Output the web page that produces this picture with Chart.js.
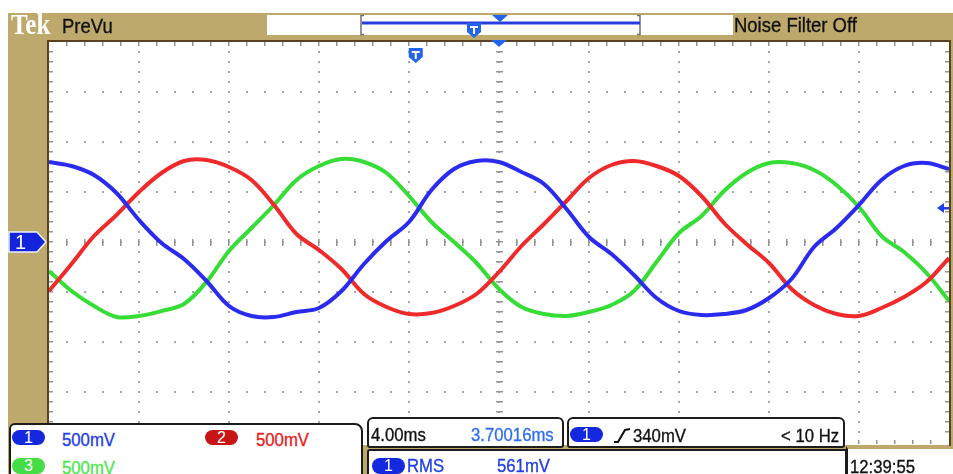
<!DOCTYPE html>
<html>
<head>
<meta charset="utf-8">
<script src="https://cdn.jsdelivr.net/npm/chart.js@4.4.1/dist/chart.umd.min.js"></script>
<style>
  body { margin:0; background:#fff; }
  #wrap { position:relative; width:953px; height:474px; overflow:hidden; font-family:"Liberation Sans", Arial, sans-serif; }
  .tan { position:absolute; left:8px; top:13px; right:0; bottom:0; background:#bea96c; }
  .bar { position:absolute; left:267px; top:15px; width:466px; height:20px; background:#fff; }
  #scope { position:absolute; left:0; top:0; }
  .t { position:absolute; white-space:nowrap; line-height:1; transform:scaleX(.88); transform-origin:left top; -webkit-text-stroke:0.35px currentColor; }
  .s19 { font-size:19px; }
  .s21 { font-size:21px; }
  .panel { position:absolute; background:#fff; border:2px solid #1c1c1c; box-sizing:border-box; }
  .badge { position:absolute; height:15px; width:33px; border-radius:8px; color:#fff; font-size:16px; line-height:15px; text-align:center; }
  .blue { color:#1f3de8; }
  .lblue { color:#2f6ef0; }
  .red { color:#e81c1c; }
  .green { color:#4ee84e; }
</style>
</head>
<body>
<div id="wrap">
  <div class="tan"></div>
  <div class="bar"></div>
  <canvas id="scope" width="953" height="474"></canvas>

  <div class="t" style="left:11px;top:8px;font:bold 29px 'Liberation Serif',serif;color:#fff;transform:scaleX(.86);-webkit-text-stroke:0">Tek</div>
  <div class="t s21" style="left:62px;top:15px;color:#111">PreVu</div>
  <div class="t s21" style="left:734px;top:14px;color:#111">Noise Filter Off</div>

  <div class="panel" style="left:9px;top:423px;width:354px;height:70px;border-radius:6px 8px 0 0"></div>
  <div class="badge" style="left:12px;top:430px;background:#1428e0">1</div>
  <div class="t s19 blue" style="left:62px;top:430px">500mV</div>
  <div class="badge" style="left:205px;top:430px;background:#c81616">2</div>
  <div class="t s19 red" style="left:256px;top:430px">500mV</div>
  <div class="badge" style="left:12px;top:458px;height:16px;background:#45dd45">3</div>
  <div class="t s19 green" style="left:62px;top:458px">500mV</div>

  <div class="panel" style="left:367px;top:417px;width:197px;height:31px;border-radius:6px 6px 3px 3px"></div>
  <div class="t s19" style="left:371px;top:425px;color:#111">4.00ms</div>
  <div class="t s19 lblue" style="left:471px;top:425px">3.70016ms</div>

  <div class="panel" style="left:567px;top:417px;width:278px;height:31px;border-radius:6px 6px 3px 3px"></div>
  <div class="badge" style="left:570px;top:427px;background:#1428e0">1</div>
  <svg style="position:absolute;left:613px;top:428px" width="18" height="15"><path d="M1 14 L5 14 L12 2 L17 1" stroke="#111" stroke-width="2" fill="none"/></svg>
  <div class="t s19" style="left:633px;top:426px;color:#111">340mV</div>
  <div class="t s19" style="left:781px;top:426px;color:#111">&lt; 10 Hz</div>

  <div class="panel" style="left:367px;top:449px;width:480px;height:40px;border-radius:3px 0 0 0"></div>
  <div class="badge" style="left:372px;top:458px;height:16px;background:#1428e0">1</div>
  <div class="t s19 blue" style="left:407px;top:456px">RMS</div>
  <div class="t s19 blue" style="left:497px;top:456px">561mV</div>

  <div class="panel" style="left:846px;top:446px;width:120px;height:40px;border-top:3px solid #bea96c;border-right:none"></div>
  <div class="t s19" style="left:850px;top:457px;color:#111">12:39:55</div>
</div>

<script>
// time axis in ms (4 ms/div), values in mV (500 mV/div)
const timeMs = [0,1,2,3,4,5,6,7,8,9,10,11,12,13,14,15,16,17,18,19,20,
                21,22,23,24,25,26,27,28,29,30,31,32,33,34,35,36,37,38,39,40];

const ch1 = [800,760,670,490,220,-10,-170,-390,-640,-740,-750,-700,-660,-490,-220,10,200,520,730,810,800,
             700,580,330,50,-120,-330,-560,-690,-730,-720,-680,-560,-370,-50,140,370,620,760,790,730];

const ch2 = [-490,-220,60,270,500,690,810,820,750,620,370,80,-80,-270,-520,-650,-720,-710,-640,-520,-300,
             -40,180,410,640,770,810,760,660,460,190,-20,-210,-470,-630,-720,-740,-660,-550,-400,-160];

const ch3 = [-290,-490,-640,-750,-740,-690,-620,-400,-90,140,370,620,760,830,800,690,460,200,0,-210,-470,
             -650,-720,-740,-700,-630,-490,-200,90,260,510,690,790,790,720,570,350,60,-100,-310,-590];

const msPerDiv = 4;
const mvPerDiv = 500;
const triggerTime = 20;
const triggerLevel = 340;
const prevuTime = 16.3;

const pts = arr => timeMs.map((t, i) => ({ x: t, y: arr[i] }));

function shield(ctx, cx, top) {
  ctx.fillStyle = '#2463ee';
  ctx.beginPath();
  ctx.moveTo(cx - 7, top);
  ctx.lineTo(cx + 7, top);
  ctx.lineTo(cx + 7, top + 9);
  ctx.lineTo(cx, top + 15);
  ctx.lineTo(cx - 7, top + 9);
  ctx.closePath();
  ctx.fill();
  ctx.strokeStyle = '#fff';
  ctx.lineWidth = 2;
  ctx.beginPath();
  ctx.moveTo(cx - 4, top + 4); ctx.lineTo(cx + 4, top + 4);
  ctx.moveTo(cx, top + 4); ctx.lineTo(cx, top + 11);
  ctx.stroke();
}

function downTri(ctx, cx, top) {
  ctx.fillStyle = '#2463ee';
  ctx.beginPath();
  ctx.moveTo(cx - 8, top);
  ctx.lineTo(cx + 8, top);
  ctx.lineTo(cx, top + 7);
  ctx.closePath();
  ctx.fill();
}

const graticule = {
  id: 'graticule',
  beforeDatasetsDraw(chart) {
    const { ctx, chartArea: a, scales: { x, y } } = chart;
    ctx.save();
    ctx.fillStyle = '#fff';
    ctx.fillRect(a.left, a.top, a.right - a.left, a.bottom - a.top + 3);

    const tMin = x.min, tMax = x.max, vMin = y.min, vMax = y.max;
    const tStep = msPerDiv / 5, vStep = mvPerDiv / 5;
    ctx.fillStyle = '#a8a8a8';
    // dotted major lines
    for (let t = tMin + msPerDiv; t < tMax - 0.01; t += msPerDiv) {
      const px = Math.round(x.getPixelForValue(t));
      for (let v = vMin + vStep; v < vMax; v += vStep)
        ctx.fillRect(px - 1, Math.round(y.getPixelForValue(v)) - 1, 2, 2);
    }
    for (let v = vMin + mvPerDiv; v < vMax - 0.01; v += mvPerDiv) {
      const py = Math.round(y.getPixelForValue(v));
      for (let t = tMin + tStep; t < tMax - 0.01; t += tStep)
        ctx.fillRect(Math.round(x.getPixelForValue(t)) - 1, py - 1, 2, 2);
    }
    // centre axes ticks
    ctx.fillStyle = '#939393';
    const cx = Math.round(x.getPixelForValue((tMin + tMax) / 2));
    const cy = Math.round(y.getPixelForValue(0));
    for (let v = vMin + vStep; v < vMax; v += vStep)
      ctx.fillRect(cx - 3, Math.round(y.getPixelForValue(v)) - 1, 7, 1.5);
    for (let t = tMin + tStep; t < tMax - 0.01; t += tStep)
      ctx.fillRect(Math.round(x.getPixelForValue(t)) - 1, cy - 3, 1.5, 7);
    // edge ticks
    for (let t = tMin + tStep; t < tMax - 0.01; t += tStep) {
      const px = Math.round(x.getPixelForValue(t));
      ctx.fillRect(px - 1, a.top, 1.5, 4);
      ctx.fillRect(px - 1, a.bottom - 2, 1.5, 4);
    }
    for (let v = vMin + vStep; v < vMax; v += vStep) {
      const py = Math.round(y.getPixelForValue(v));
      ctx.fillRect(a.left, py - 1, 4, 1.5);
      ctx.fillRect(a.right - 4, py - 1, 4, 1.5);
    }
    ctx.restore();
  },
  afterDraw(chart) {
    const { ctx, chartArea: a, scales: { x, y } } = chart;
    ctx.save();
    // frame
    ctx.strokeStyle = '#5a4220';
    ctx.lineWidth = 2;
    ctx.beginPath();
    ctx.moveTo(a.left - 1, a.bottom + 4);
    ctx.lineTo(a.left - 1, a.top - 1);
    ctx.lineTo(a.right + 1, a.top - 1);
    ctx.lineTo(a.right + 1, a.bottom + 5);
    ctx.stroke();

    // record bar in header
    ctx.strokeStyle = '#707070';
    ctx.lineWidth = 1.5;
    ctx.beginPath();
    ctx.moveTo(364, 15.5); ctx.lineTo(361, 15.5); ctx.lineTo(361, 34.5); ctx.lineTo(364, 34.5);
    ctx.moveTo(637, 15.5); ctx.lineTo(640, 15.5); ctx.lineTo(640, 34.5); ctx.lineTo(637, 34.5);
    ctx.stroke();
    ctx.strokeStyle = '#2a3ee0';
    ctx.lineWidth = 3;
    ctx.beginPath();
    ctx.moveTo(362, 23); ctx.lineTo(640, 23);
    ctx.stroke();
    downTri(ctx, 500, 15);
    shield(ctx, 474, 23);

    // trigger position + PreVu markers
    const tx = x.getPixelForValue(triggerTime);
    downTri(ctx, tx, a.top - 2);
    shield(ctx, x.getPixelForValue(prevuTime), a.top + 6);

    // ch1 ground marker
    const gy = y.getPixelForValue(0);
    ctx.fillStyle = '#1424dc';
    ctx.strokeStyle = '#eef0ff';
    ctx.lineWidth = 1.5;
    ctx.beginPath();
    ctx.moveTo(9, gy - 10);
    ctx.lineTo(37, gy - 10);
    ctx.lineTo(46, gy);
    ctx.lineTo(37, gy + 10);
    ctx.lineTo(9, gy + 10);
    ctx.closePath();
    ctx.fill();
    ctx.stroke();
    ctx.fillStyle = '#fff';
    ctx.font = '20px "Liberation Sans", Arial';
    ctx.textBaseline = 'middle';
    ctx.fillText('1', 15, gy + 1);

    // trigger level arrow
    const ly = y.getPixelForValue(triggerLevel);
    ctx.fillStyle = '#1f3de8';
    ctx.beginPath();
    ctx.moveTo(a.right - 12, ly);
    ctx.lineTo(a.right - 5, ly - 5);
    ctx.lineTo(a.right - 5, ly + 5);
    ctx.closePath();
    ctx.fill();
    ctx.fillRect(a.right - 6, ly - 1, 6, 2.5);
    ctx.restore();
  }
};

new Chart(document.getElementById('scope'), {
  type: 'line',
  data: {
    datasets: [
      { label: 'CH1', data: pts(ch1), borderColor: '#2b2bf0' },
      { label: 'CH2', data: pts(ch2), borderColor: '#f02a2a' },
      { label: 'CH3', data: pts(ch3), borderColor: '#36dd36' }
    ]
  },
  options: {
    responsive: false,
    animation: false,
    devicePixelRatio: 1,
    layout: { padding: { left: 49, right: 4, top: 42, bottom: 32 } },
    elements: {
      point: { radius: 0 },
      line: { borderWidth: 4, tension: 0.35 }
    },
    scales: {
      x: { type: 'linear', min: 0, max: 40, display: false },
      y: { min: -2000, max: 2000, display: false }
    },
    plugins: { legend: { display: false }, tooltip: { enabled: false } }
  },
  plugins: [graticule]
});
</script>
</body>
</html>
